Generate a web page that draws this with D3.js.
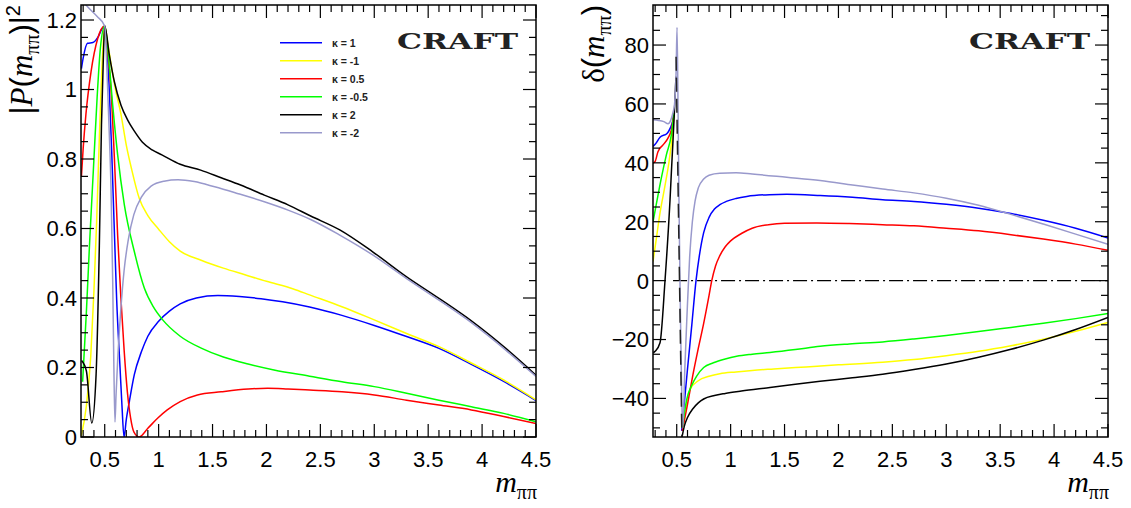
<!DOCTYPE html>
<html><head><meta charset="utf-8">
<script src="https://cdn.jsdelivr.net/npm/d3@7"></script>
<style>body{margin:0;background:#fff} svg{display:block}</style>
</head><body>
<svg id="c" width="1131" height="508"></svg>
<script>
// ---------------- data ----------------
const xMajorTicks = [0.5, 1, 1.5, 2, 2.5, 3, 3.5, 4, 4.5];
const magTicks = [0, 0.2, 0.4, 0.6, 0.8, 1, 1.2];
const phaseTicks = [-40, -20, 0, 20, 40, 60, 80];
const kappaLabels = ["κ = 1", "κ = -1", "κ = 0.5", "κ = -0.5", "κ = 2", "κ = -2"];
const kappaColors = ["#0000ff", "#ffff00", "#ff0000", "#00ff00", "#000000", "#9999cc"];

// |P(m)|^2  [m, value]
const magK1 = [[0.284,1.06],[0.30,1.09],[0.34,1.133],[0.39,1.135],[0.44,1.152],[0.472,1.173],[0.5,1.183],[0.52,1.12],[0.545,0.98],[0.565,0.82],[0.58,0.68],[0.596,0.53],[0.611,0.394],[0.642,0.2],[0.66,0.09],[0.679,0.0],[0.70,0.05],[0.73,0.105],[0.775,0.18],[0.84,0.245],[0.9,0.29],[1.0,0.333],[1.1,0.362],[1.2,0.383],[1.35,0.4],[1.55,0.407],[1.75,0.404],[1.95,0.398],[2.15,0.389],[2.4,0.374],[2.7,0.35],[3.0,0.321],[3.3,0.289],[3.6,0.255],[3.9,0.209],[4.2,0.16],[4.5,0.105]];
const magKm1 = [[0.28,0.0],[0.33,0.09],[0.37,0.23],[0.40,0.42],[0.425,0.62],[0.45,0.86],[0.48,1.10],[0.5,1.183],[0.53,1.13],[0.56,1.07],[0.6,1.0],[0.65,0.93],[0.7,0.84],[0.75,0.77],[0.82,0.687],[0.9,0.637],[1.0,0.598],[1.1,0.562],[1.2,0.535],[1.4,0.508],[1.6,0.486],[1.8,0.467],[2.0,0.448],[2.25,0.426],[2.4,0.409],[2.7,0.375],[3.0,0.337],[3.3,0.298],[3.6,0.26],[3.9,0.213],[4.2,0.164],[4.5,0.107]];
const magK05 = [[0.284,0.75],[0.30,0.83],[0.326,0.93],[0.373,1.051],[0.435,1.147],[0.5,1.183],[0.53,1.1],[0.558,1.0],[0.59,0.80],[0.62,0.58],[0.65,0.40],[0.68,0.25],[0.71,0.13],[0.74,0.055],[0.77,0.015],[0.82,0.0],[0.9,0.025],[0.99,0.054],[1.08,0.078],[1.2,0.102],[1.36,0.121],[1.58,0.130],[1.83,0.138],[2.01,0.140],[2.2,0.138],[2.4,0.135],[2.7,0.130],[3.0,0.121],[3.3,0.106],[3.6,0.092],[3.9,0.078],[4.2,0.059],[4.5,0.039]];
const magKm05 = [[0.295,0.159],[0.33,0.36],[0.36,0.56],[0.40,0.80],[0.43,0.98],[0.46,1.12],[0.5,1.183],[0.54,1.08],[0.574,0.955],[0.62,0.812],[0.682,0.668],[0.775,0.533],[0.868,0.428],[0.95,0.375],[1.038,0.337],[1.2,0.29],[1.4,0.255],[1.6,0.23],[1.83,0.21],[2.07,0.193],[2.4,0.175],[2.7,0.159],[3.0,0.145],[3.3,0.126],[3.6,0.106],[3.9,0.087],[4.2,0.068],[4.5,0.044]];
const magK2 = [[0.285,0.22],[0.33,0.19],[0.38,0.04],[0.42,0.18],[0.45,0.55],[0.47,0.9],[0.49,1.12],[0.5,1.183],[0.543,1.099],[0.589,1.023],[0.651,0.955],[0.713,0.912],[0.775,0.88],[0.85,0.848],[0.94,0.826],[1.03,0.812],[1.2,0.785],[1.39,0.768],[1.58,0.746],[1.76,0.725],[1.98,0.696],[2.2,0.668],[2.41,0.636],[2.68,0.596],[2.985,0.533],[3.3,0.461],[3.6,0.399],[3.91,0.332],[4.22,0.255],[4.5,0.178]];
const magKm2 = [[0.28,1.26],[0.35,1.235],[0.43,1.21],[0.5,1.183],[0.527,1.003],[0.545,0.85],[0.558,0.72],[0.574,0.45],[0.585,0.2],[0.595,0.043],[0.605,0.12],[0.62,0.22],[0.65,0.37],[0.68,0.48],[0.72,0.57],[0.77,0.64],[0.84,0.69],[0.93,0.722],[1.05,0.736],[1.18,0.74],[1.33,0.735],[1.52,0.72],[1.73,0.701],[1.98,0.677],[2.2,0.653],[2.41,0.626],[2.68,0.581],[2.985,0.524],[3.3,0.456],[3.6,0.394],[3.91,0.327],[4.22,0.25],[4.5,0.174]];

// delta(m) in degrees [m, value]; null = gap
const phK1 = [[0.28,45.6],[0.30,46.3],[0.345,48.7],[0.41,50],[0.44,51.8],[0.465,54.6],[0.475,57],[0.5,null],[0.546,-51],[0.6,-30],[0.64,-15],[0.679,0],[0.71,8.5],[0.75,16.3],[0.8,21.5],[0.85,24.3],[0.9,25.8],[0.96,26.9],[1.05,27.9],[1.15,28.6],[1.36,29.2],[1.52,29.3],[1.83,28.9],[2.13,28.3],[2.41,27.5],[2.7,26.9],[3.0,25.9],[3.3,24.6],[3.6,22.8],[3.9,20.5],[4.2,17.8],[4.5,14.5]];
const phKm1 = [[0.28,6.5],[0.31,14],[0.345,23],[0.39,32],[0.435,42],[0.466,52],[0.475,56.5],[0.5,null],[0.555,-51],[0.59,-42],[0.623,-37],[0.7,-34],[0.8,-32.5],[0.9,-31.6],[1.05,-31],[1.2,-30.5],[1.4,-30],[1.7,-29.3],[2.0,-28.6],[2.41,-27.7],[2.7,-26.8],[3.0,-25.5],[3.3,-24.0],[3.6,-22.1],[3.9,-19.9],[4.2,-17.2],[4.5,-14.2]];
const phK05 = [[0.28,39.9],[0.30,40.5],[0.326,43.8],[0.373,46.1],[0.419,48.4],[0.45,51.2],[0.475,57],[0.5,null],[0.552,-51],[0.6,-42],[0.65,-32],[0.7,-23],[0.75,-14.5],[0.8,-5],[0.825,0],[0.86,5],[0.9,8.5],[0.95,11.5],[1.0,13.5],[1.1,16],[1.2,17.8],[1.35,19.0],[1.5,19.5],[1.8,19.6],[2.1,19.4],[2.41,19.0],[2.7,18.6],[3.0,17.8],[3.3,16.9],[3.6,15.6],[3.9,14.1],[4.2,12.4],[4.5,10.3]];
const phKm05 = [[0.28,20],[0.31,25.8],[0.357,34.8],[0.404,42.7],[0.45,49.5],[0.475,57],[0.5,null],[0.552,-50],[0.593,-40.3],[0.64,-35.5],[0.685,-32.4],[0.75,-29.5],[0.84,-27.9],[0.95,-26.6],[1.056,-25.7],[1.2,-25],[1.365,-24.4],[1.6,-23.4],[1.83,-22.3],[2.1,-21.5],[2.41,-20.8],[2.7,-19.8],[3.0,-18.6],[3.3,-17.3],[3.6,-15.9],[3.9,-14.5],[4.2,-12.9],[4.5,-11.2]];
const phK2 = [[0.283,-24.5],[0.30,-24],[0.345,-21.1],[0.391,-0.2],[0.438,27.5],[0.453,38.7],[0.484,61.4],[0.493,69.3],[0.5,null],[0.55,-53],[0.57,-49.5],[0.6,-46.5],[0.65,-43.5],[0.7,-41.5],[0.75,-40.2],[0.85,-39],[0.95,-38.3],[1.1,-37.5],[1.365,-36.3],[1.6,-35.2],[1.83,-34.2],[2.13,-33],[2.41,-31.8],[2.7,-30.2],[3.0,-28.3],[3.3,-26],[3.6,-23.3],[3.9,-20.2],[4.2,-16.6],[4.5,-12.5]];
const phKm2 = [[0.28,54.6],[0.33,54.4],[0.38,54.0],[0.42,53.3],[0.445,54.5],[0.465,57],[0.48,60],[0.495,72],[0.503,86],[0.512,60],[0.52,30],[0.53,0],[0.54,-25],[0.55,-45],[0.557,-50],[0.575,-30],[0.595,-12],[0.62,8],[0.645,20],[0.67,27],[0.7,31.5],[0.75,34.5],[0.8,35.8],[0.9,36.5],[1.05,36.6],[1.2,36.2],[1.52,35.1],[1.83,34.0],[2.13,32.5],[2.41,31.1],[2.7,29.8],[3.0,28.0],[3.3,25.6],[3.6,22.5],[3.9,19.2],[4.2,15.8],[4.5,12.3]];

const phaseJump = [[0.494,76],[0.548,-53.1]];
const zeroRef = [[0.466,0],[4.5,0]];

const magSeries = [magK1, magKm1, magK05, magKm05, magK2, magKm2];
const phaseSeries = [phK1, phKm1, phK05, phKm05, phK2, phKm2];

// ---------------- drawing ----------------
const svg = d3.select("#c");
const W = 455, H = 432, TOP = 5;
const panels = [
  {left: 81, domain: [0, 1.2432], ticks: magTicks, minor: 0.05, data: magSeries, id: "L"},
  {left: 653, domain: [-53.1, 93.6], ticks: phaseTicks, minor: 5, data: phaseSeries, id: "R"}
];
const xDomain = [0.28, 4.5];
const FONT = "'Liberation Sans', Arial, Helvetica, sans-serif";
const SERIF = "'Liberation Serif', 'Times New Roman', serif";
const fmt = d3.format("~g");

panels.forEach(p => {
  const x = d3.scaleLinear().domain(xDomain).range([p.left, p.left + W]);
  const y = d3.scaleLinear().domain(p.domain).range([TOP + H, TOP]);
  const clipId = "clip" + p.id;
  svg.append("clipPath").attr("id", clipId).append("rect")
    .attr("x", p.left).attr("y", TOP).attr("width", W).attr("height", H);
  const g = svg.append("g");
  const plot = g.append("g").attr("clip-path", `url(#${clipId})`);

  const straight = d3.line().defined(d => d[1] !== null).x(d => x(d[0])).y(d => y(d[1]));
  const smooth = d3.line().defined(d => d[1] !== null).x(d => x(d[0])).y(d => y(d[1])).curve(d3.curveMonotoneX);

  if (p.id === "R") {
    plot.append("path").datum(zeroRef).attr("d", straight)
      .attr("stroke", "#000").attr("stroke-width", 1.2).attr("fill", "none")
      .attr("stroke-dasharray", "14,4,2,4");
  }

  p.data.forEach((s, i) => {
    plot.append("path").datum(s).attr("d", smooth)
      .attr("fill", "none").attr("stroke", kappaColors[i]).attr("stroke-width", 1.5)
      .attr("stroke-linejoin", "round");
  });

  if (p.id === "R") {
    plot.append("path").datum(phaseJump).attr("d", straight)
      .attr("stroke", "#222").attr("stroke-width", 1.5).attr("fill", "none")
      .attr("stroke-dasharray", "14,7");
  }

  // frame
  g.append("rect").attr("x", p.left).attr("y", TOP).attr("width", W).attr("height", H)
    .attr("fill", "none").attr("stroke", "#000").attr("stroke-width", 1.5);

  const tk = g.append("g").attr("stroke", "#000").attr("stroke-width", 1.2);
  const xMinor = d3.range(3, 46).map(v => v / 10).filter(v => !xMajorTicks.some(m => Math.abs(m - v) < 1e-9));
  xMajorTicks.forEach(v => {
    tk.append("line").attr("x1", x(v)).attr("x2", x(v)).attr("y1", TOP + H).attr("y2", TOP + H - 13);
    tk.append("line").attr("x1", x(v)).attr("x2", x(v)).attr("y1", TOP).attr("y2", TOP + 13);
  });
  xMinor.forEach(v => {
    tk.append("line").attr("x1", x(v)).attr("x2", x(v)).attr("y1", TOP + H).attr("y2", TOP + H - 7);
    tk.append("line").attr("x1", x(v)).attr("x2", x(v)).attr("y1", TOP).attr("y2", TOP + 7);
  });
  const yMinor = d3.range(Math.ceil(p.domain[0] / p.minor), Math.floor(p.domain[1] / p.minor) + 1)
    .map(k => k * p.minor).filter(v => !p.ticks.some(m => Math.abs(m - v) < 1e-9));
  p.ticks.forEach(v => {
    tk.append("line").attr("x1", p.left).attr("x2", p.left + 13).attr("y1", y(v)).attr("y2", y(v));
    tk.append("line").attr("x1", p.left + W).attr("x2", p.left + W - 13).attr("y1", y(v)).attr("y2", y(v));
  });
  yMinor.forEach(v => {
    tk.append("line").attr("x1", p.left).attr("x2", p.left + 7).attr("y1", y(v)).attr("y2", y(v));
    tk.append("line").attr("x1", p.left + W).attr("x2", p.left + W - 7).attr("y1", y(v)).attr("y2", y(v));
  });

  xMajorTicks.forEach(v => {
    g.append("text").attr("x", x(v)).attr("y", 467).attr("text-anchor", "middle")
      .attr("font-family", FONT).attr("font-size", 22).text(fmt(v));
  });
  p.ticks.forEach(v => {
    g.append("text").attr("x", p.left - 4).attr("y", y(v)).attr("dy", "0.36em").attr("text-anchor", "end")
      .attr("font-family", FONT).attr("font-size", 22).text(fmt(v));
  });

  const xt = g.append("text").attr("x", p.left + W + 1).attr("y", 492).attr("text-anchor", "end")
    .attr("font-family", SERIF).attr("font-size", 30);
  xt.append("tspan").attr("font-style", "italic").text("m");
  xt.append("tspan").attr("font-size", 20).attr("dy", 7).text("ππ");

  g.append("text").attr("x", p.left + W - 139).attr("y", 48.5)
    .attr("font-family", "'DejaVu Serif', serif").attr("font-weight", "bold").attr("font-size", 22.5)
    .attr("fill", "#222").attr("textLength", 121).attr("lengthAdjust", "spacingAndGlyphs").text("CRAFT");
});

{
  const t = svg.append("text").attr("transform", "translate(32,5) rotate(-90)").attr("text-anchor", "end")
    .attr("font-family", FONT).attr("font-size", 31);
  t.append("tspan").text("|");
  t.append("tspan").attr("font-family", SERIF).attr("font-style", "italic").text("P");
  t.append("tspan").text("(");
  t.append("tspan").attr("font-family", SERIF).attr("font-style", "italic").text("m");
  t.append("tspan").attr("font-family", SERIF).attr("font-size", 20).attr("dy", 7).text("ππ");
  t.append("tspan").attr("dy", -7).text(")|");
  t.append("tspan").attr("font-size", 20).attr("dy", -12).text("2");
}
{
  const t = svg.append("text").attr("transform", "translate(604,5) rotate(-90)").attr("text-anchor", "end")
    .attr("font-family", FONT).attr("font-size", 31);
  t.append("tspan").attr("font-family", SERIF).text("δ");
  t.append("tspan").text("(");
  t.append("tspan").attr("font-family", SERIF).attr("font-style", "italic").text("m");
  t.append("tspan").attr("font-family", SERIF).attr("font-size", 20).attr("dy", 7).text("ππ");
  t.append("tspan").attr("dy", -7).text(")");
}

const leg = svg.append("g");
kappaLabels.forEach((lab, i) => {
  const yy = 42.7 + i * 18;
  leg.append("line").attr("x1", 280).attr("x2", 322).attr("y1", yy).attr("y2", yy)
    .attr("stroke", kappaColors[i]).attr("stroke-width", 1.5);
  leg.append("text").attr("x", 332).attr("y", yy + 4).attr("font-family", FONT)
    .attr("font-weight", "bold").attr("font-size", 10.5).attr("fill", "#222").text(lab);
});
</script></body></html>
